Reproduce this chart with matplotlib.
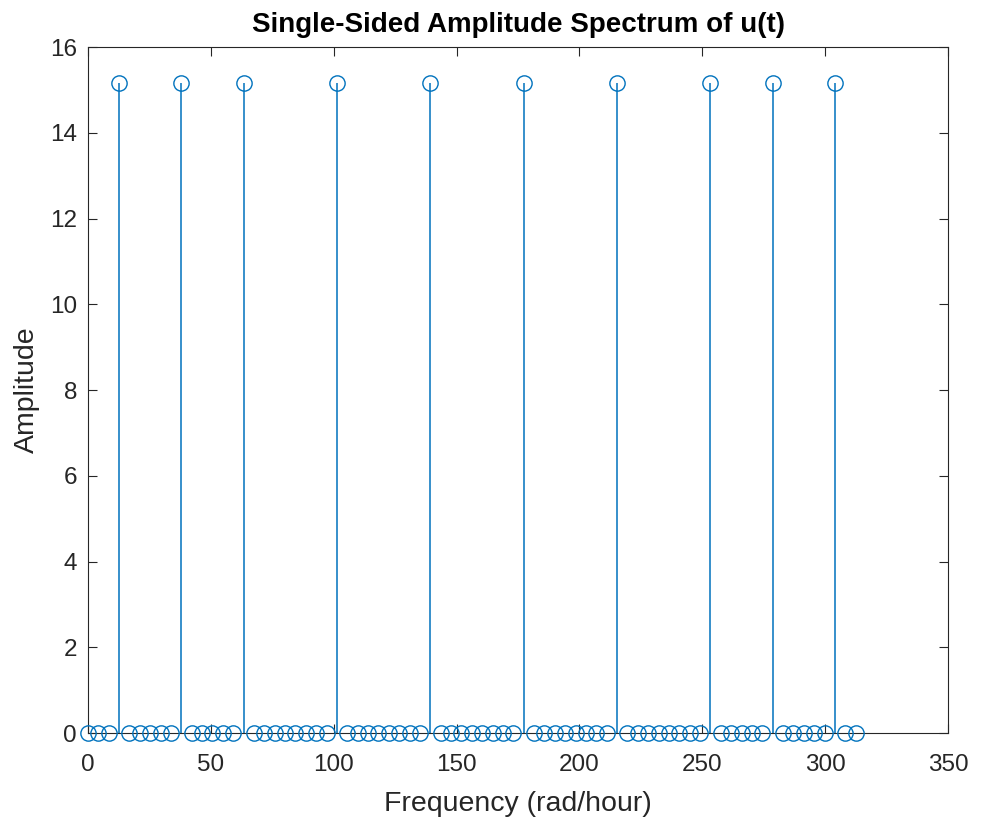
import matplotlib.pyplot as plt

# frequency grid (rad/hour)
freq = [0.00, 4.22, 8.44, 12.67, 16.89, 21.11, 25.33, 29.55, 33.78, 38.00,
        42.22, 46.44, 50.66, 54.89, 59.11, 63.33, 67.55, 71.77, 76.00, 80.22,
        84.44, 88.66, 92.88, 97.11, 101.33, 105.55, 109.77, 113.99, 118.22, 122.44,
        126.66, 130.88, 135.10, 139.33, 143.55, 147.77, 151.99, 156.21, 160.44, 164.66,
        168.88, 173.10, 177.32, 181.55, 185.77, 189.99, 194.21, 198.43, 202.66, 206.88,
        211.10, 215.32, 219.54, 223.77, 227.99, 232.21, 236.43, 240.65, 244.88, 249.10,
        253.32, 257.54, 261.76, 265.99, 270.21, 274.43, 278.65, 282.87, 287.10, 291.32,
        295.54, 299.76, 303.98, 308.21, 312.43]

amp = [0.0, 0.0, 0.0, 15.15, 0.0, 0.0, 0.0, 0.0, 0.0, 15.15,
       0.0, 0.0, 0.0, 0.0, 0.0, 15.15, 0.0, 0.0, 0.0, 0.0,
       0.0, 0.0, 0.0, 0.0, 15.15, 0.0, 0.0, 0.0, 0.0, 0.0,
       0.0, 0.0, 0.0, 15.15, 0.0, 0.0, 0.0, 0.0, 0.0, 0.0,
       0.0, 0.0, 15.15, 0.0, 0.0, 0.0, 0.0, 0.0, 0.0, 0.0,
       0.0, 15.15, 0.0, 0.0, 0.0, 0.0, 0.0, 0.0, 0.0, 0.0,
       15.15, 0.0, 0.0, 0.0, 0.0, 0.0, 15.15, 0.0, 0.0, 0.0,
       0.0, 0.0, 15.15, 0.0, 0.0]

xticks = [0, 50, 100, 150, 200, 250, 300, 350]
yticks = [0, 2, 4, 6, 8, 10, 12, 14, 16]

plt.rcParams['font.family'] = ['Liberation Sans', 'DejaVu Sans']
blue = '#0072BD'
grey = '#262626'

fig = plt.figure(figsize=(9.82, 8.18), dpi=100)
ax = fig.add_axes([0.0896, 0.1039, 0.8758, 0.8386])

markers, stems, base = ax.stem(freq, amp, basefmt=' ')
plt.setp(stems, color=blue, linewidth=1.1)
plt.setp(markers, color=blue, marker='o', markersize=11,
         markerfacecolor='none', markeredgewidth=1.0, clip_on=False, zorder=3)

ax.set_xlim(0, 350)
ax.set_ylim(0, 16)
ax.set_xticks(xticks)
ax.set_yticks(yticks)
ax.tick_params(direction='in', top=True, right=True, length=6.5, width=0.8,
               labelsize=17.5, colors=grey)
ax.tick_params(axis='x', pad=15)
ax.tick_params(axis='y', pad=8)
for s in ax.spines.values():
    s.set_color(grey)
    s.set_linewidth(0.8)

ax.set_xlabel('Frequency (rad/hour)', fontsize=20.5, color=grey, labelpad=11)
ax.set_ylabel('Amplitude', fontsize=20.5, color=grey, labelpad=7)
ax.set_title('Single-Sided Amplitude Spectrum of u(t)', fontsize=20,
             fontweight='bold', pad=11)

fig.savefig('out.png', dpi=100)
